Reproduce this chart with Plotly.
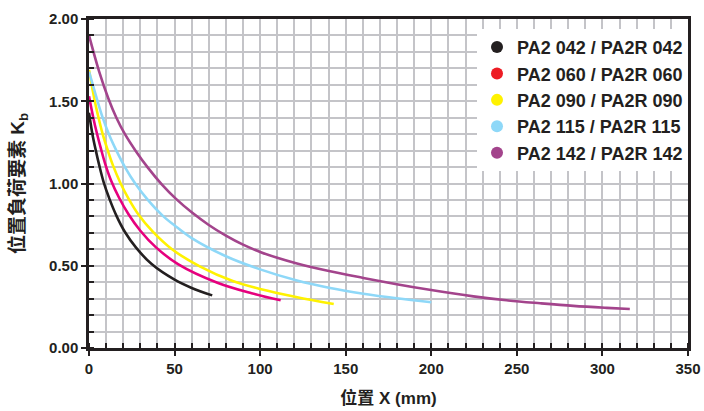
import plotly.graph_objects as go

# ---- data ----
names = ["PA2 042 / PA2R 042", "PA2 060 / PA2R 060", "PA2 090 / PA2R 090",
         "PA2 115 / PA2R 115", "PA2 142 / PA2R 142"]

x_042 = [0, 2, 4, 6, 8.5, 12, 16, 21, 27.5, 36.6, 50, 60, 72]
y_042 = [1.43, 1.30, 1.20, 1.11, 1.01, 0.905, 0.805, 0.705, 0.61, 0.51, 0.415, 0.365, 0.32]

x_060 = [0, 2.5, 4.5, 7, 9.6, 13, 17.5, 23, 30, 39, 52, 75, 95, 112]
y_060 = [1.53, 1.40, 1.31, 1.21, 1.115, 1.015, 0.915, 0.815, 0.713, 0.613, 0.51, 0.397, 0.333, 0.29]

x_090 = [0, 3.3, 5, 8, 11, 14, 18.5, 23, 29, 37, 48.5, 65, 84, 100.6, 121, 143]
y_090 = [1.69, 1.505, 1.425, 1.30, 1.20, 1.11, 1.00, 0.91, 0.81, 0.71, 0.60, 0.495, 0.407, 0.357, 0.31, 0.267]

x_115 = [0, 5.3, 8, 12, 16, 21, 27, 34, 43, 50, 60, 80, 100, 121, 140.9, 160.3, 179.8, 200]
y_115 = [1.68, 1.49, 1.40, 1.29, 1.20, 1.10, 1.00, 0.905, 0.805, 0.745, 0.668, 0.558, 0.478, 0.412, 0.365, 0.33, 0.302, 0.278]

x_142 = [0, 5.8, 11.2, 16, 21, 27.5, 34.5, 42.5, 51, 60, 70, 80, 90, 100, 110, 121, 140.9, 160.3,
         179.8, 199, 224.6, 244, 263.6, 283, 302.5, 316]
y_142 = [1.90, 1.685, 1.52, 1.40, 1.30, 1.195, 1.095, 0.995, 0.905, 0.825, 0.748, 0.683, 0.628, 0.584, 0.548, 0.515, 0.466, 0.426,
         0.388, 0.354, 0.314, 0.29, 0.272, 0.256, 0.244, 0.237]

x_tick_vals = [0, 50, 100, 150, 200, 250, 300, 350]
y_tick_vals = [0, 0.5, 1.0, 1.5, 2.0]
y_tick_text = ["0.00", "0.50", "1.00", "1.50", "2.00"]

line_colors = ["#231f20", "#e6007e", "#fff200", "#8ed8f8", "#a3448c"]
legend_colors = ["#231f20", "#ed1c24", "#fff200", "#8ed8f8", "#a3448c"]

xs = [x_042, x_060, x_090, x_115, x_142]
ys = [y_042, y_060, y_090, y_115, y_142]

fig = go.Figure()
for xv, yv, c in zip(xs, ys, line_colors):
    fig.add_trace(go.Scatter(x=xv, y=yv, mode="lines",
                             line=dict(color=c, width=2.6, shape="spline", smoothing=1.0),
                             showlegend=False, hoverinfo="skip"))
for n, c in zip(names, legend_colors):
    fig.add_trace(go.Scatter(x=[None], y=[None], mode="markers", name="<b>" + n + "</b>",
                             marker=dict(color=c, size=12)))

ink = "#231f20"
grid_c = "#c4c4c8"
fam = "Liberation Sans, Arial, Noto Sans CJK TC"
fig.update_layout(
    width=704, height=411,
    margin=dict(l=89, r=16, t=19, b=63, autoexpand=False),
    paper_bgcolor="white", plot_bgcolor="white",
    font=dict(family=fam, color=ink),
    legend=dict(x=1, xanchor="right", y=0.97, yanchor="top", bgcolor="white",
                font=dict(size=18, color=ink, family=fam),
                tracegroupgap=0, itemwidth=30, borderwidth=0),
    showlegend=True,
)
fig.update_xaxes(
    range=[0, 350], tickvals=x_tick_vals, ticktext=["<b>%d</b>" % v for v in x_tick_vals],
    showline=True, linecolor=ink, linewidth=2.5, mirror=True,
    ticks="outside", ticklen=5, tickwidth=1.5, tickcolor=ink,
    showgrid=True, gridcolor=grid_c, gridwidth=1.5, zeroline=False,
    minor=dict(dtick=10, tick0=0, ticks="inside", ticklen=5, tickwidth=1.5, tickcolor=ink,
               showgrid=True, gridcolor=grid_c, gridwidth=1.5),
    tickfont=dict(size=15, color=ink, family=fam),
    title=dict(text="<b>位置 X (mm)</b>", font=dict(size=17, color=ink, family=fam), standoff=17),
    automargin=False,
)
fig.update_yaxes(
    range=[0, 2], tickvals=y_tick_vals, ticktext=["<b>%s</b>" % t for t in y_tick_text],
    showline=True, linecolor=ink, linewidth=2.5, mirror=True,
    ticks="outside", ticklen=5, tickwidth=1.5, tickcolor=ink,
    showgrid=True, gridcolor=grid_c, gridwidth=1.5, zeroline=False,
    minor=dict(dtick=0.1, tick0=0, ticks="inside", ticklen=5, tickwidth=1.5, tickcolor=ink,
               showgrid=True, gridcolor=grid_c, gridwidth=1.5),
    tickfont=dict(size=15, color=ink, family=fam),
    title=dict(text="<b>位置負荷要素 K<sub>b</sub></b>", font=dict(size=19, color=ink, family=fam), standoff=20),
    automargin=False,
)

fig.write_html("out.html", config={"displayModeBar": False},
               post_script="document.body.style.margin='0px';")
